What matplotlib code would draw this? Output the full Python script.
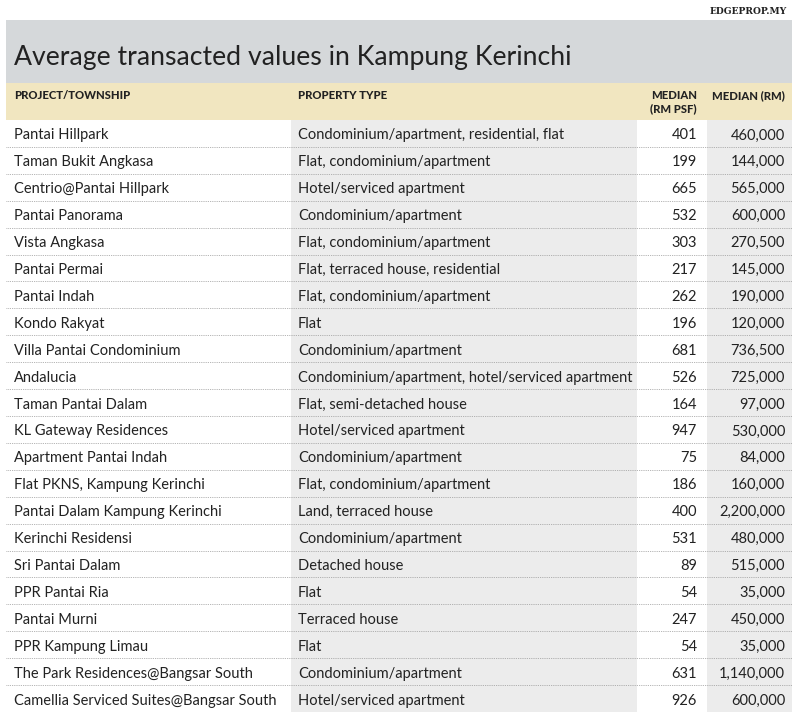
import matplotlib as mpl
import matplotlib.pyplot as plt
from matplotlib.patches import Rectangle

mpl.rcParams["font.family"] = ["Lato", "DejaVu Sans"]

# ------------------------------------------------------------
# DATA
# ------------------------------------------------------------
TITLE = "Average transacted values in Kampung Kerinchi"
SOURCE = "EDGEPROP.MY"
HEADERS = ["PROJECT/TOWNSHIP", "PROPERTY TYPE", "MEDIAN\n(RM PSF)", "MEDIAN (RM)"]

projects = [
    "Pantai Hillpark", "Taman Bukit Angkasa", "Centrio@Pantai Hillpark",
    "Pantai Panorama", "Vista Angkasa", "Pantai Permai", "Pantai Indah",
    "Kondo Rakyat", "Villa Pantai Condominium", "Andalucia",
    "Taman Pantai Dalam", "KL Gateway Residences", "Apartment Pantai Indah",
    "Flat PKNS, Kampung Kerinchi", "Pantai Dalam Kampung Kerinchi",
    "Kerinchi Residensi", "Sri Pantai Dalam", "PPR Pantai Ria",
    "Pantai Murni", "PPR Kampung Limau", "The Park Residences@Bangsar South",
    "Camellia Serviced Suites@Bangsar South",
]
prop_types = [
    "Condominium/apartment, residential, flat",
    "Flat, condominium/apartment",
    "Hotel/serviced apartment",
    "Condominium/apartment",
    "Flat, condominium/apartment",
    "Flat, terraced house, residential",
    "Flat, condominium/apartment",
    "Flat",
    "Condominium/apartment",
    "Condominium/apartment, hotel/serviced apartment",
    "Flat, semi-detached house",
    "Hotel/serviced apartment",
    "Condominium/apartment",
    "Flat, condominium/apartment",
    "Land, terraced house",
    "Condominium/apartment",
    "Detached house",
    "Flat",
    "Terraced house",
    "Flat",
    "Condominium/apartment",
    "Hotel/serviced apartment",
]
median_psf = [401, 199, 665, 532, 303, 217, 262, 196, 681, 526, 164,
              947, 75, 186, 400, 531, 89, 54, 247, 54, 631, 926]
median_rm = [460000, 144000, 565000, 600000, 270500, 145000, 190000,
             120000, 736500, 725000, 97000, 530000, 84000, 160000,
             2200000, 480000, 515000, 35000, 450000, 35000, 1140000, 600000]

# ------------------------------------------------------------
# LAYOUT (pixel coords)
# ------------------------------------------------------------
W, H = 800, 720
LEFT, RIGHT = 6, 792
TITLE_TOP, HEAD_TOP, BODY_TOP, BODY_BOT = 20, 83, 120, 712
COL_TYPE, COL_PSF, COL_RM = 291, 637, 707
ROW_H = (BODY_BOT - BODY_TOP) / len(projects)

GREY_BAND = "#d5d8da"
BEIGE = "#f1e6c0"
COL_GREY = "#ececec"
TEXT = "#222222"

fig = plt.figure(figsize=(8, 7.2), dpi=100)
ax = fig.add_axes([0, 0, 1, 1])
ax.set_xlim(0, W)
ax.set_ylim(H, 0)
ax.axis("off")

# bands
ax.add_patch(Rectangle((LEFT, TITLE_TOP), RIGHT - LEFT, HEAD_TOP - TITLE_TOP,
                       color=GREY_BAND, lw=0))
ax.add_patch(Rectangle((LEFT, HEAD_TOP), RIGHT - LEFT, BODY_TOP - HEAD_TOP,
                       color=BEIGE, lw=0))
# shaded columns
ax.add_patch(Rectangle((COL_TYPE, BODY_TOP), COL_PSF - COL_TYPE,
                       BODY_BOT - BODY_TOP, color=COL_GREY, lw=0))
ax.add_patch(Rectangle((COL_RM, BODY_TOP), RIGHT - COL_RM,
                       BODY_BOT - BODY_TOP, color=COL_GREY, lw=0))

# texts
ax.text(787, 12, SOURCE, ha="right", va="center", fontsize=6.6,
        fontweight="bold", family="DejaVu Serif", color="#222222")
ax.text(14, 58, TITLE, ha="left", va="center", fontsize=19.2, color=TEXT)

hkw = dict(fontsize=8.1, fontweight="black", color=TEXT, va="top")
ax.text(14, 90, HEADERS[0], ha="left", **hkw)
ax.text(298, 90, HEADERS[1], ha="left", **hkw)
ax.text(697, 90, HEADERS[2], ha="right", linespacing=1.25, **hkw)
ax.text(785, 90, HEADERS[3], ha="right", **hkw)

for i in range(len(projects)):
    yc = BODY_TOP + (i + 0.5) * ROW_H + 2
    kw = dict(fontsize=10.5, color=TEXT, va="center")
    ax.text(14, yc, projects[i], ha="left", **kw)
    ax.text(298, yc, prop_types[i], ha="left", **kw)
    ax.text(697, yc, f"{median_psf[i]}", ha="right", **kw)
    ax.text(785, yc, f"{median_rm[i]:,}", ha="right", **kw)
    if i > 0:
        yl = BODY_TOP + i * ROW_H
        ax.plot([LEFT, RIGHT], [yl, yl], color="#9a9a9a", lw=0.6,
                ls=(0, (1, 1.2)))

fig.savefig("out.png", dpi=100)
